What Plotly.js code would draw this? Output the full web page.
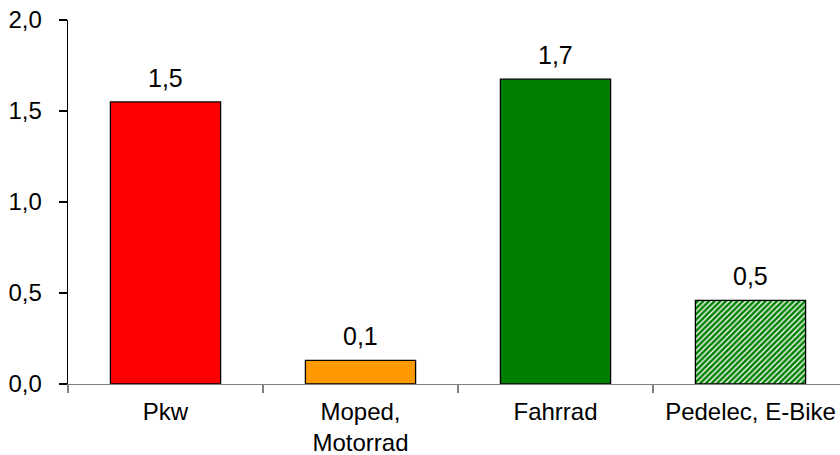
<!DOCTYPE html>
<html>
<head>
<meta charset="utf-8">
<script src="https://cdn.plot.ly/plotly-3.0.1.min.js"></script>
<style>html,body{margin:0;padding:0;background:#fff;}#chart{width:840px;height:455px;}</style>
</head>
<body>
<div id="chart"></div>
<script>
const categories = ["Pkw", "Moped,<br>Motorrad", "Fahrrad", "Pedelec, E-Bike"];
const values = [1.55, 0.13, 1.675, 0.46];
const valueLabels = ["1,5", "0,1", "1,7", "0,5"];
const yTickVals = [0, 0.5, 1.0, 1.5, 2.0];
const yTickText = ["0,0", "0,5", "1,0", "1,5", "2,0"];
const barColors = ["#FF0000", "#FF9900", "#008000", "#FFFFFF"];
const patternShapes = ["", "", "", "/"];
const patternColor = "#008000";

const FONT = "Liberation Sans, Arial, sans-serif";

const traces = categories.map((c, i) => {
  const m = {color: barColors[i], line: {color: "#000", width: 1.3}};
  if (patternShapes[i]) {
    m.pattern = {shape: patternShapes[i], fgcolor: patternColor, bgcolor: barColors[i],
                 fgopacity: 1, size: 4, solidity: 0.65, fillmode: "overlay"};
  }
  return {
    type: "bar", x: [c], y: [values[i]], width: 0.565,
    marker: m, hoverinfo: "skip", showlegend: false
  };
});

const annotations = categories.map((c, i) => ({
  x: c, y: values[i], xref: "x", yref: "y",
  text: valueLabels[i], showarrow: false,
  yanchor: "bottom", yshift: 8,
  font: {family: FONT, size: 25, color: "#000"}
}));

const layout = {
  width: 840, height: 455,
  margin: {l: 68, r: 0, t: 20, b: 71},
  paper_bgcolor: "#fff", plot_bgcolor: "#fff",
  showlegend: false,
  barmode: "overlay",
  font: {family: FONT, size: 24, color: "#000"},
  annotations: annotations,
  xaxis: {
    type: "category",
    categoryorder: "array", categoryarray: categories,
    range: [-0.5, 3.459],
    automargin: false,
    showline: true, linecolor: "#808080", linewidth: 1.3,
    ticks: "outside", tickson: "boundaries", ticklen: 8, tickcolor: "#808080", tickwidth: 1.3,
    ticklabelstandoff: 6,
    showgrid: false, zeroline: false,
    tickfont: {family: FONT, size: 24}
  },
  yaxis: {
    range: [0, 2.0],
    automargin: false,
    tickvals: yTickVals, ticktext: yTickText,
    showline: true, linecolor: "#000", linewidth: 1.3,
    ticks: "outside", ticklen: 8, tickcolor: "#000", tickwidth: 1.3,
    ticklabelstandoff: 12,
    showgrid: false, zeroline: false,
    tickfont: {family: FONT, size: 24}
  }
};

Plotly.newPlot("chart", traces, layout, {staticPlot: true, displayModeBar: false});
</script>
</body>
</html>
